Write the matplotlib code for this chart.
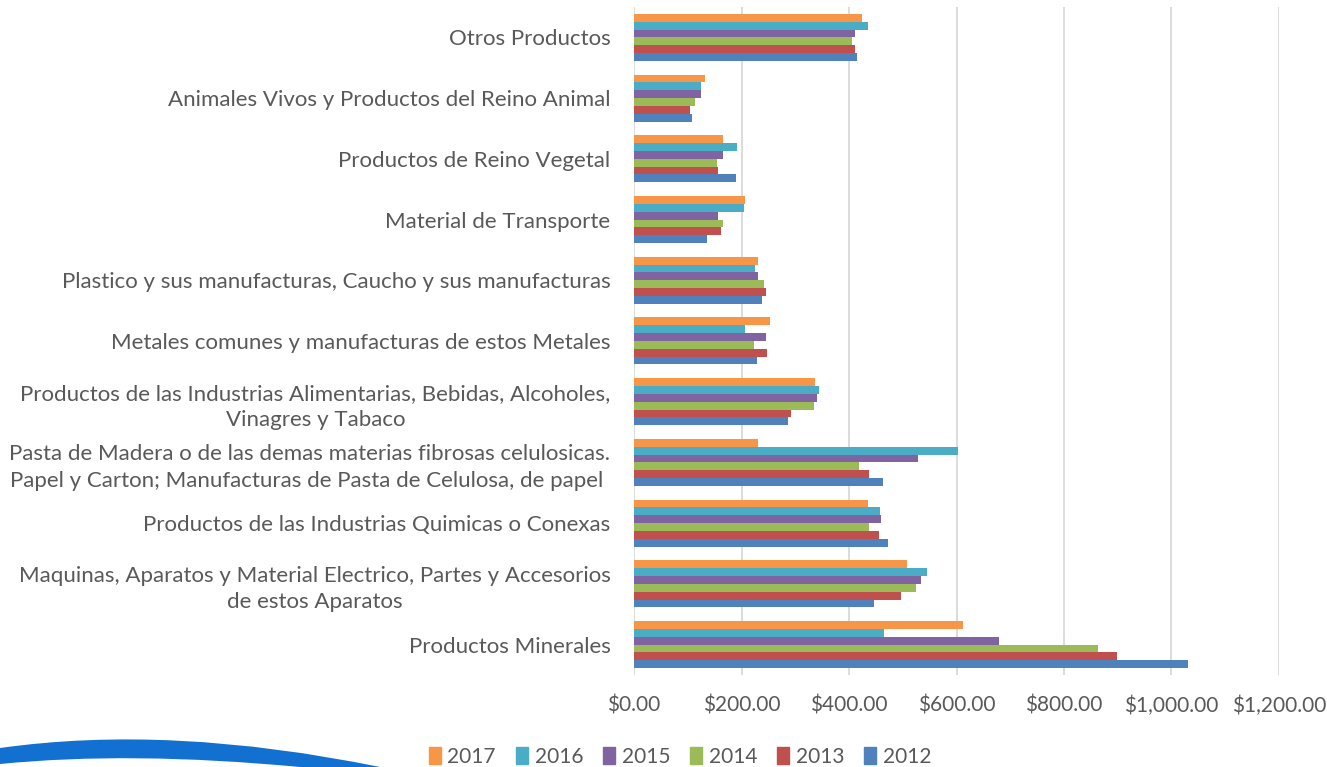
import matplotlib
matplotlib.use("Agg")
import matplotlib.pyplot as plt
from matplotlib.patches import Patch, PathPatch
from matplotlib.path import Path
from matplotlib.ticker import FuncFormatter
import numpy as np

# categories from bottom to top
categories = [
    "Productos Minerales",
    "Maquinas, Aparatos y Material Electrico, Partes y Accesorios\nde estos Aparatos",
    "Productos de las Industrias Quimicas o Conexas",
    "Pasta de Madera o de las demas materias fibrosas celulosicas.\nPapel y Carton; Manufacturas de Pasta de Celulosa, de papel ",
    "Productos de las Industrias Alimentarias, Bebidas, Alcoholes,\nVinagres y Tabaco",
    "Metales comunes y manufacturas de estos Metales",
    "Plastico y sus manufacturas, Caucho y sus manufacturas",
    "Material de Transporte",
    "Productos de Reino Vegetal",
    "Animales Vivos y Productos del Reino Animal",
    "Otros Productos",
]

years = ["2012", "2013", "2014", "2015", "2016", "2017"]
v2012 = [1031, 446, 473, 463, 287, 229, 238, 135, 190, 107, 415]
v2013 = [898, 496, 455, 438, 292, 248, 246, 161, 156, 105, 411]
v2014 = [864, 524, 437, 419, 335, 224, 242, 166, 154, 113, 406]
v2015 = [679, 534, 460, 528, 340, 245, 230, 156, 166, 124, 411]
v2016 = [466, 546, 458, 602, 344, 207, 225, 204, 192, 124, 435]
v2017 = [612, 507, 435, 230, 337, 253, 231, 206, 165, 132, 424]
series = [v2012, v2013, v2014, v2015, v2016, v2017]
colors = ["#4F81BD", "#C0504D", "#9BBB59", "#8064A2", "#4BACC6", "#F79646"]

plt.rcParams["font.family"] = ["Lato", "DejaVu Sans"]
txt = "#595959"

fig = plt.figure(figsize=(13.27, 7.67), dpi=100)
ax = fig.add_axes([0.4778, 0.12, 0.486, 0.8709])

y = np.arange(len(categories))
h = 0.129
for i, (vals, c) in enumerate(zip(series, colors)):
    ax.barh(y + (i - 2.5) * h, vals, height=h, color=c, zorder=3)

ax.set_xlim(0, 1200)
ax.set_ylim(-0.5, len(categories) - 0.5)
ax.set_xticks(np.arange(0, 1201, 200))
ax.xaxis.set_major_formatter(FuncFormatter(lambda v, p: "${:,.2f}".format(v)))
ax.grid(axis="x", color="#d9d9d9", linewidth=1.3, zorder=0)
ax.set_yticks(y)
ax.set_yticklabels(categories)
for lab in ax.get_yticklabels():
    lab.set_multialignment("center")
    lab.set_linespacing(1.4)
ax.tick_params(axis="y", length=0, pad=17, labelsize=16, labelcolor=txt)
ax.tick_params(axis="x", length=0, pad=15, labelsize=15, labelcolor=txt)
for s in ax.spines.values():
    s.set_visible(False)

handles = [Patch(color=c, label=yr) for yr, c in zip(years, colors)][::-1]
fig.legend(handles=handles, loc="center", bbox_to_anchor=(0.5124, 0.013), ncol=6,
           frameon=False, fontsize=15, labelcolor=txt, handlelength=0.6,
           handleheight=0.9, handletextpad=0.3, columnspacing=0.95)

# blue swoosh in the lower left corner
W, H = 1327.0, 767.0
pts = [(0, 748), (170, 724), (380, 767), (300, 767), (130, 751), (0, 764), (0, 748)]
codes = [Path.MOVETO, Path.CURVE3, Path.CURVE3, Path.LINETO, Path.CURVE3, Path.CURVE3, Path.CLOSEPOLY]
path = Path([(px / W, 1 - py / H) for px, py in pts], codes)
fig.patches.append(PathPatch(path, transform=fig.transFigure, facecolor="#1170D0",
                             edgecolor="none"))

fig.savefig("out.png", dpi=100)
